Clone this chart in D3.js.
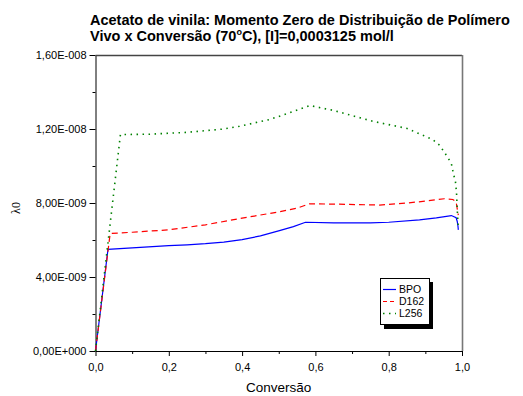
<!DOCTYPE html>
<html>
<head>
<meta charset="utf-8">
<script src="https://cdn.jsdelivr.net/npm/d3@7"></script>
<style>
  body { margin: 0; background: #fff; }
  text { font-family: Arial, "Liberation Sans", sans-serif; }
</style>
</head>
<body>
<div id="chart"></div>
<script>

// conversion values (x) and lambda0 values (in 1e-9)
let bpo_x = [0, 0.034, 0.1, 0.2, 0.25, 0.3, 0.35, 0.4, 0.45, 0.502, 0.54, 0.573, 0.65, 0.75, 0.8, 0.884, 0.93, 0.971, 0.984, 0.987, 0.989, 0.990];
let bpo_y = [0, 5.49, 5.57, 5.70, 5.74, 5.80, 5.89, 6.02, 6.22, 6.51, 6.72, 6.96, 6.93, 6.93, 6.96, 7.09, 7.20, 7.32, 7.20, 7.00, 6.75, 6.55];

let d162_x = [0, 0.04, 0.1, 0.2, 0.3, 0.4, 0.5, 0.55, 0.584, 0.65, 0.775, 0.85, 0.9, 0.952, 0.975, 0.984, 0.988, 0.990];
let d162_y = [0, 6.35, 6.42, 6.55, 6.82, 7.18, 7.52, 7.72, 7.96, 7.94, 7.89, 8.00, 8.10, 8.23, 8.19, 8.06, 7.56, 7.35];

let l256_x = [0, 0.068, 0.15, 0.25, 0.35, 0.393, 0.475, 0.54, 0.585, 0.65, 0.756, 0.85, 0.92, 0.939, 0.961, 0.971, 0.977, 0.982, 0.985, 0.987, 0.990];
let l256_y = [0, 11.70, 11.72, 11.82, 12.00, 12.15, 12.51, 12.95, 13.27, 13.00, 12.42, 12.03, 11.43, 11.12, 10.47, 10.13, 9.54, 9.18, 8.57, 7.65, 6.57];

let seriesnames = ["BPO", "D162", "L256"];
let xticks = [0, 0.2, 0.4, 0.6, 0.8, 1.0];
let yticks = [0, 4e-9, 8e-9, 1.2e-8, 1.6e-8];

let margin = {top: 55, right: 61, bottom: 45, left: 95.5};
let totalwidth = 523;
let totalheight = 396;
let width = totalwidth - margin.left - margin.right;
let height = totalheight - margin.top - margin.bottom;

let svg = d3.select("#chart")
.append("svg")
.attr("width", totalwidth)
.attr("height", totalheight);

let g = svg.append("g")
.attr("transform", "translate(" + margin.left + "," + margin.top + ")");

let x = d3.scaleLinear().domain([0, 1]).range([0, width]);
let y = d3.scaleLinear().domain([0, 1.6e-8]).range([height, 0]);

// y label formatter like "8,00E-009"
function sciformat(v) {
  if (v == 0) return "0,00E+000";
  let e = Math.floor(Math.log10(v) + 1e-9);
  let m = v / Math.pow(10, e);
  let s = e < 0 ? "-" : "+";
  return m.toFixed(2).replace(".", ",") + "E" + s + String(Math.abs(e)).padStart(3, "0");
}

// minor ticks first
g.append("g")
.attr("transform", "translate(0," + height + ")")
.call(d3.axisBottom(x).tickValues(d3.range(0.1, 1, 0.2)).tickSize(3).tickFormat(""))
.call(a => a.select(".domain").remove());

g.append("g")
.call(d3.axisLeft(y).tickValues([2e-9, 6e-9, 1e-8, 1.4e-8]).tickSize(3).tickFormat(""))
.call(a => a.select(".domain").remove());

let xaxis = g.append("g")
.attr("transform", "translate(0," + height + ")")
.call(d3.axisBottom(x).tickValues(xticks).tickSize(5).tickSizeOuter(0)
  .tickFormat(function(d){ return d.toFixed(1).replace(".", ","); }));

let yaxis = g.append("g")
.call(d3.axisLeft(y).tickValues(yticks).tickSize(6).tickSizeOuter(0).tickFormat(sciformat));

svg.selectAll(".tick text")
.style("font-size", "11px")
.attr("fill", "#000");
xaxis.selectAll(".tick text").attr("dy", "1.1em");
yaxis.selectAll(".tick text").attr("x", -9);

// frame top and right
g.append("line")
.attr("x1", 0).attr("x2", width).attr("y1", 0.5).attr("y2", 0.5)
.attr("stroke", "#444").attr("stroke-width", 1.3);
g.append("line")
.attr("x1", width + 0.5).attr("x2", width + 0.5).attr("y1", 0).attr("y2", height)
.attr("stroke", "#777").attr("stroke-width", 1.6);

// series
let seriesdata = [
  {name: "BPO", xs: bpo_x, ys: bpo_y, color: "#0000ff", dash: null},
  {name: "D162", xs: d162_x, ys: d162_y, color: "#ff0000", dash: "6,4"},
  {name: "L256", xs: l256_x, ys: l256_y, color: "#008000", dash: "1.5,4.5"}
];

let line = d3.line()
.x(function(d){ return x(d[0]); })
.y(function(d){ return y(d[1] * 1e-9); });

seriesdata.forEach(function(s) {
  let pts = s.xs.map(function(v, i){ return [v, s.ys[i]]; });
  g.append("path")
  .datum(pts)
  .attr("fill", "none")
  .attr("stroke", s.color)
  .attr("stroke-width", s.name == "L256" ? 1.6 : 1.2)
  .attr("stroke-dasharray", s.dash)
  .attr("d", line);
});

// legend
let lg = svg.append("g").attr("transform", "translate(380,278)");
lg.append("rect")
.attr("x", 4).attr("y", 4).attr("width", 49).attr("height", 47)
.attr("fill", "#000");
lg.append("rect")
.attr("x", 0.5).attr("y", 0.5).attr("width", 49).attr("height", 46)
.attr("fill", "#fff").attr("stroke", "#000");

seriesdata.forEach(function(s, i) {
  let ly = 11.5 + i * 12;
  lg.append("line")
  .attr("x1", 3).attr("x2", 16).attr("y1", ly).attr("y2", ly)
  .attr("stroke", s.color)
  .attr("stroke-width", s.name == "L256" ? 1.6 : 1.2)
  .attr("stroke-dasharray", s.name == "D162" ? "4,3" : s.dash);
  lg.append("text")
  .attr("x", 19).attr("y", ly)
  .attr("dy", "0.35em")
  .style("font-size", "10.5px")
  .text(s.name);
});

// axis titles
svg.append("text")
.attr("x", margin.left + width / 2)
.attr("y", 392)
.attr("text-anchor", "middle")
.style("font-size", "13.5px")
.text("Conversão");

svg.append("text")
.attr("transform", "translate(20,208) rotate(-90)")
.attr("text-anchor", "middle")
.style("font-size", "12px")
.style("font-family", "'Times New Roman', 'Liberation Serif', serif")
.text("λ0");

// title
let title = svg.append("g").style("font-weight", "bold").style("font-size", "14.5px");
title.append("text")
.attr("x", 90).attr("y", 25)
.text("Acetato de vinila: Momento Zero de Distribuição de Polímero");
let t2 = title.append("text").attr("x", 90).attr("y", 41);
t2.append("tspan").text("Vivo x Conversão (70");
t2.append("tspan").attr("dy", -6).style("font-size", "9px").text("o");
t2.append("tspan").attr("dy", 6).text("C), [I]=0,0003125 mol/l");

</script>
</body>
</html>
